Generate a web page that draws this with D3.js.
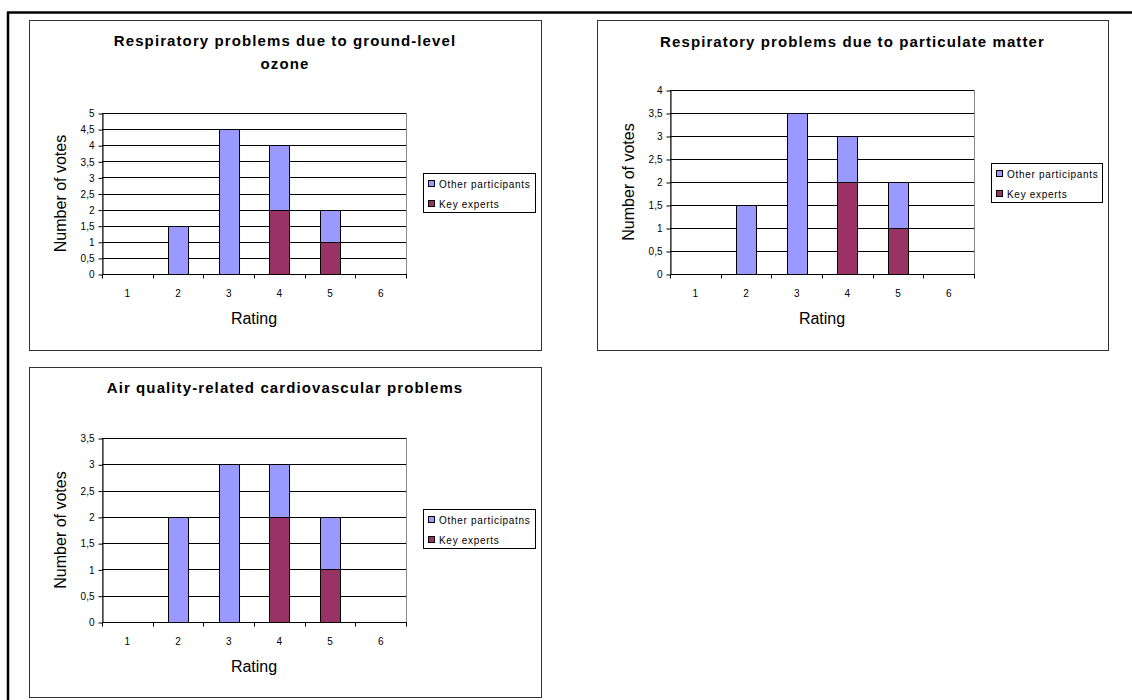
<!DOCTYPE html>
<html><head><meta charset="utf-8">
<script src="https://cdn.jsdelivr.net/npm/d3@7"></script>
<style>
body{margin:0;background:#fff;}
svg{display:block;font-family:"Liberation Sans",Arial,sans-serif;}
</style></head>
<body>
<svg id="c" width="1132" height="700"></svg>
<script>
const categories = ["1","2","3","4","5","6"];
const seriesNames1 = ["Other participants","Key experts"];
const seriesNames3 = ["Other participatns","Key experts"];
const ozoneKey = [0,0,0,2,1,0];
const ozoneOther = [0,1.5,4.5,2,1,0];
const pmKey = [0,0,0,2,1,0];
const pmOther = [0,1.5,3.5,1,1,0];
const cardioKey = [0,0,0,2,1,0];
const cardioOther = [0,2,3,1,1,0];
const ozoneTicks = [0,0.5,1,1.5,2,2.5,3,3.5,4,4.5,5];
const pmTicks = [0,0.5,1,1.5,2,2.5,3,3.5,4];
const cardioTicks = [0,0.5,1,1.5,2,2.5,3,3.5];
const colors = {other:"#9999FF", key:"#993366"};

const svg = d3.select("#c");
// outer frame
svg.append("line").attr("x1",7).attr("x2",1132).attr("y1",12.5).attr("y2",12.5).attr("stroke","#000").attr("stroke-width",2.5);
svg.append("line").attr("x1",8).attr("x2",8).attr("y1",12).attr("y2",700).attr("stroke","#000").attr("stroke-width",2.5);

function chart(o){
  const g = svg.append("g");
  g.append("rect").attr("x",o.box[0]+0.5).attr("y",o.box[1]+0.5).attr("width",o.box[2]-o.box[0]).attr("height",o.box[3]-o.box[1])
    .attr("fill","#fff").attr("stroke","#333").attr("stroke-width",1);
  const x = d3.scaleBand().domain(categories).range([o.px0,o.px1]).paddingInner(0.6).paddingOuter(0.3);
  const xb = d3.scaleBand().domain(categories).range([o.px0,o.px1]);
  const y = d3.scaleLinear().domain([0,d3.max(o.ticks)]).range([o.py0,o.py1]);
  // plot border
  g.append("rect").attr("x",o.px0+0.5).attr("y",o.py1+0.5).attr("width",o.px1-o.px0).attr("height",o.py0-o.py1).attr("fill","#fff").attr("stroke","#888");
  // grid
  g.selectAll(".grid").data(o.ticks.filter(t=>t>0)).enter().append("line")
    .attr("x1",o.px0).attr("x2",o.px1).attr("y1",d=>Math.round(y(d))+0.5).attr("y2",d=>Math.round(y(d))+0.5).attr("stroke","#000").attr("stroke-width",1);
  // stacked bars
  const stack = categories.map((c,i)=>({c, key:o.key[i], other:o.other[i]}));
  g.selectAll(".bk").data(stack.filter(d=>d.key>0)).enter().append("rect")
    .attr("x",d=>Math.round(x(d.c))+0.5).attr("width",Math.round(x.bandwidth()))
    .attr("y",d=>Math.round(y(d.key))+0.5).attr("height",d=>Math.round(y(0))-Math.round(y(d.key)))
    .attr("fill",colors.key).attr("stroke","#000");
  g.selectAll(".bo").data(stack.filter(d=>d.other>0)).enter().append("rect")
    .attr("x",d=>Math.round(x(d.c))+0.5).attr("width",Math.round(x.bandwidth()))
    .attr("y",d=>Math.round(y(d.key+d.other))+0.5).attr("height",d=>Math.round(y(d.key))-Math.round(y(d.key+d.other)))
    .attr("fill",colors.other).attr("stroke","#000");
  // y axis
  const ya = g.append("g").attr("transform",`translate(${o.px0+0.5},0.5)`)
    .call(d3.axisLeft(y).tickValues(o.ticks).tickSize(4).tickSizeOuter(0).tickFormat(d=>String(d).replace(".",",")));
  ya.select(".domain").attr("stroke","#000");
  ya.selectAll("line").attr("stroke","#000");
  ya.selectAll("text").attr("font-size",10).attr("fill","#000").attr("font-family","Liberation Sans, Arial").attr("dx","-1");
  // x axis
  const xa = g.append("g").attr("transform",`translate(0,${o.py0+0.5})`);
  xa.append("line").attr("x1",o.px0).attr("x2",o.px1+1).attr("y1",0).attr("y2",0).attr("stroke","#000");
  xa.selectAll(".tk").data(categories.concat(["end"])).enter().append("line")
    .attr("x1",(d,i)=>Math.round(o.px0+i*xb.step())+0.5).attr("x2",(d,i)=>Math.round(o.px0+i*xb.step())+0.5)
    .attr("y1",0).attr("y2",4).attr("stroke","#000");
  xa.selectAll(".lb").data(categories).enter().append("text")
    .attr("x",d=>xb(d)+xb.bandwidth()/2).attr("y",22).attr("text-anchor","middle").attr("font-size",10).text(d=>d);
  // axis titles
  g.append("text").attr("x",(o.px0+o.px1)/2).attr("y",o.py0+50).attr("text-anchor","middle").attr("font-size",16).text("Rating");
  g.append("text").attr("transform",`translate(${o.ylx},${(o.py0+o.py1)/2}) rotate(-90)`).attr("text-anchor","middle").attr("font-size",16).text("Number of votes");
  // title
  const cx = (o.box[0]+o.box[2])/2;
  o.title.forEach((t,i)=>{
    g.append("text").attr("x",cx).attr("y",o.ty+i*23).attr("text-anchor","middle").attr("font-size",15).attr("font-weight","bold").attr("letter-spacing","1.1").text(t);
  });
  // legend
  const L = o.legend;
  g.append("rect").attr("x",L[0]+0.5).attr("y",L[1]+0.5).attr("width",L[2]-L[0]).attr("height",L[3]-L[1]).attr("fill","#fff").attr("stroke","#000");
  const names = o.names;
  const lcol = [colors.other, colors.key];
  names.forEach((n,i)=>{
    const yy = L[1]+11+i*20;
    g.append("rect").attr("x",L[0]+5.5).attr("y",yy-3.5).attr("width",6).attr("height",6).attr("fill",lcol[i]).attr("stroke","#000");
    g.append("text").attr("x",L[0]+16).attr("y",yy+4).attr("font-size",10).attr("letter-spacing","0.7").text(n);
  });
}

chart({box:[29,20,541,350], px0:102, px1:406, py0:274, py1:113, ticks:ozoneTicks, key:ozoneKey, other:ozoneOther,
  title:["Respiratory problems due to ground-level","ozone"], ty:46, legend:[423,173,535,212], names:seriesNames1, ylx:66});
chart({box:[597,20,1108,350], px0:670, px1:974, py0:274, py1:90, ticks:pmTicks, key:pmKey, other:pmOther,
  title:["Respiratory problems due to particulate matter"], ty:47, legend:[991,163,1102,202], names:seriesNames1, ylx:634});
chart({box:[29,367,541,697], px0:102, px1:406, py0:622, py1:438, ticks:cardioTicks, key:cardioKey, other:cardioOther,
  title:["Air quality-related cardiovascular problems"], ty:393, legend:[423,509,535,548], names:seriesNames3, ylx:66});
</script>
</body></html>
